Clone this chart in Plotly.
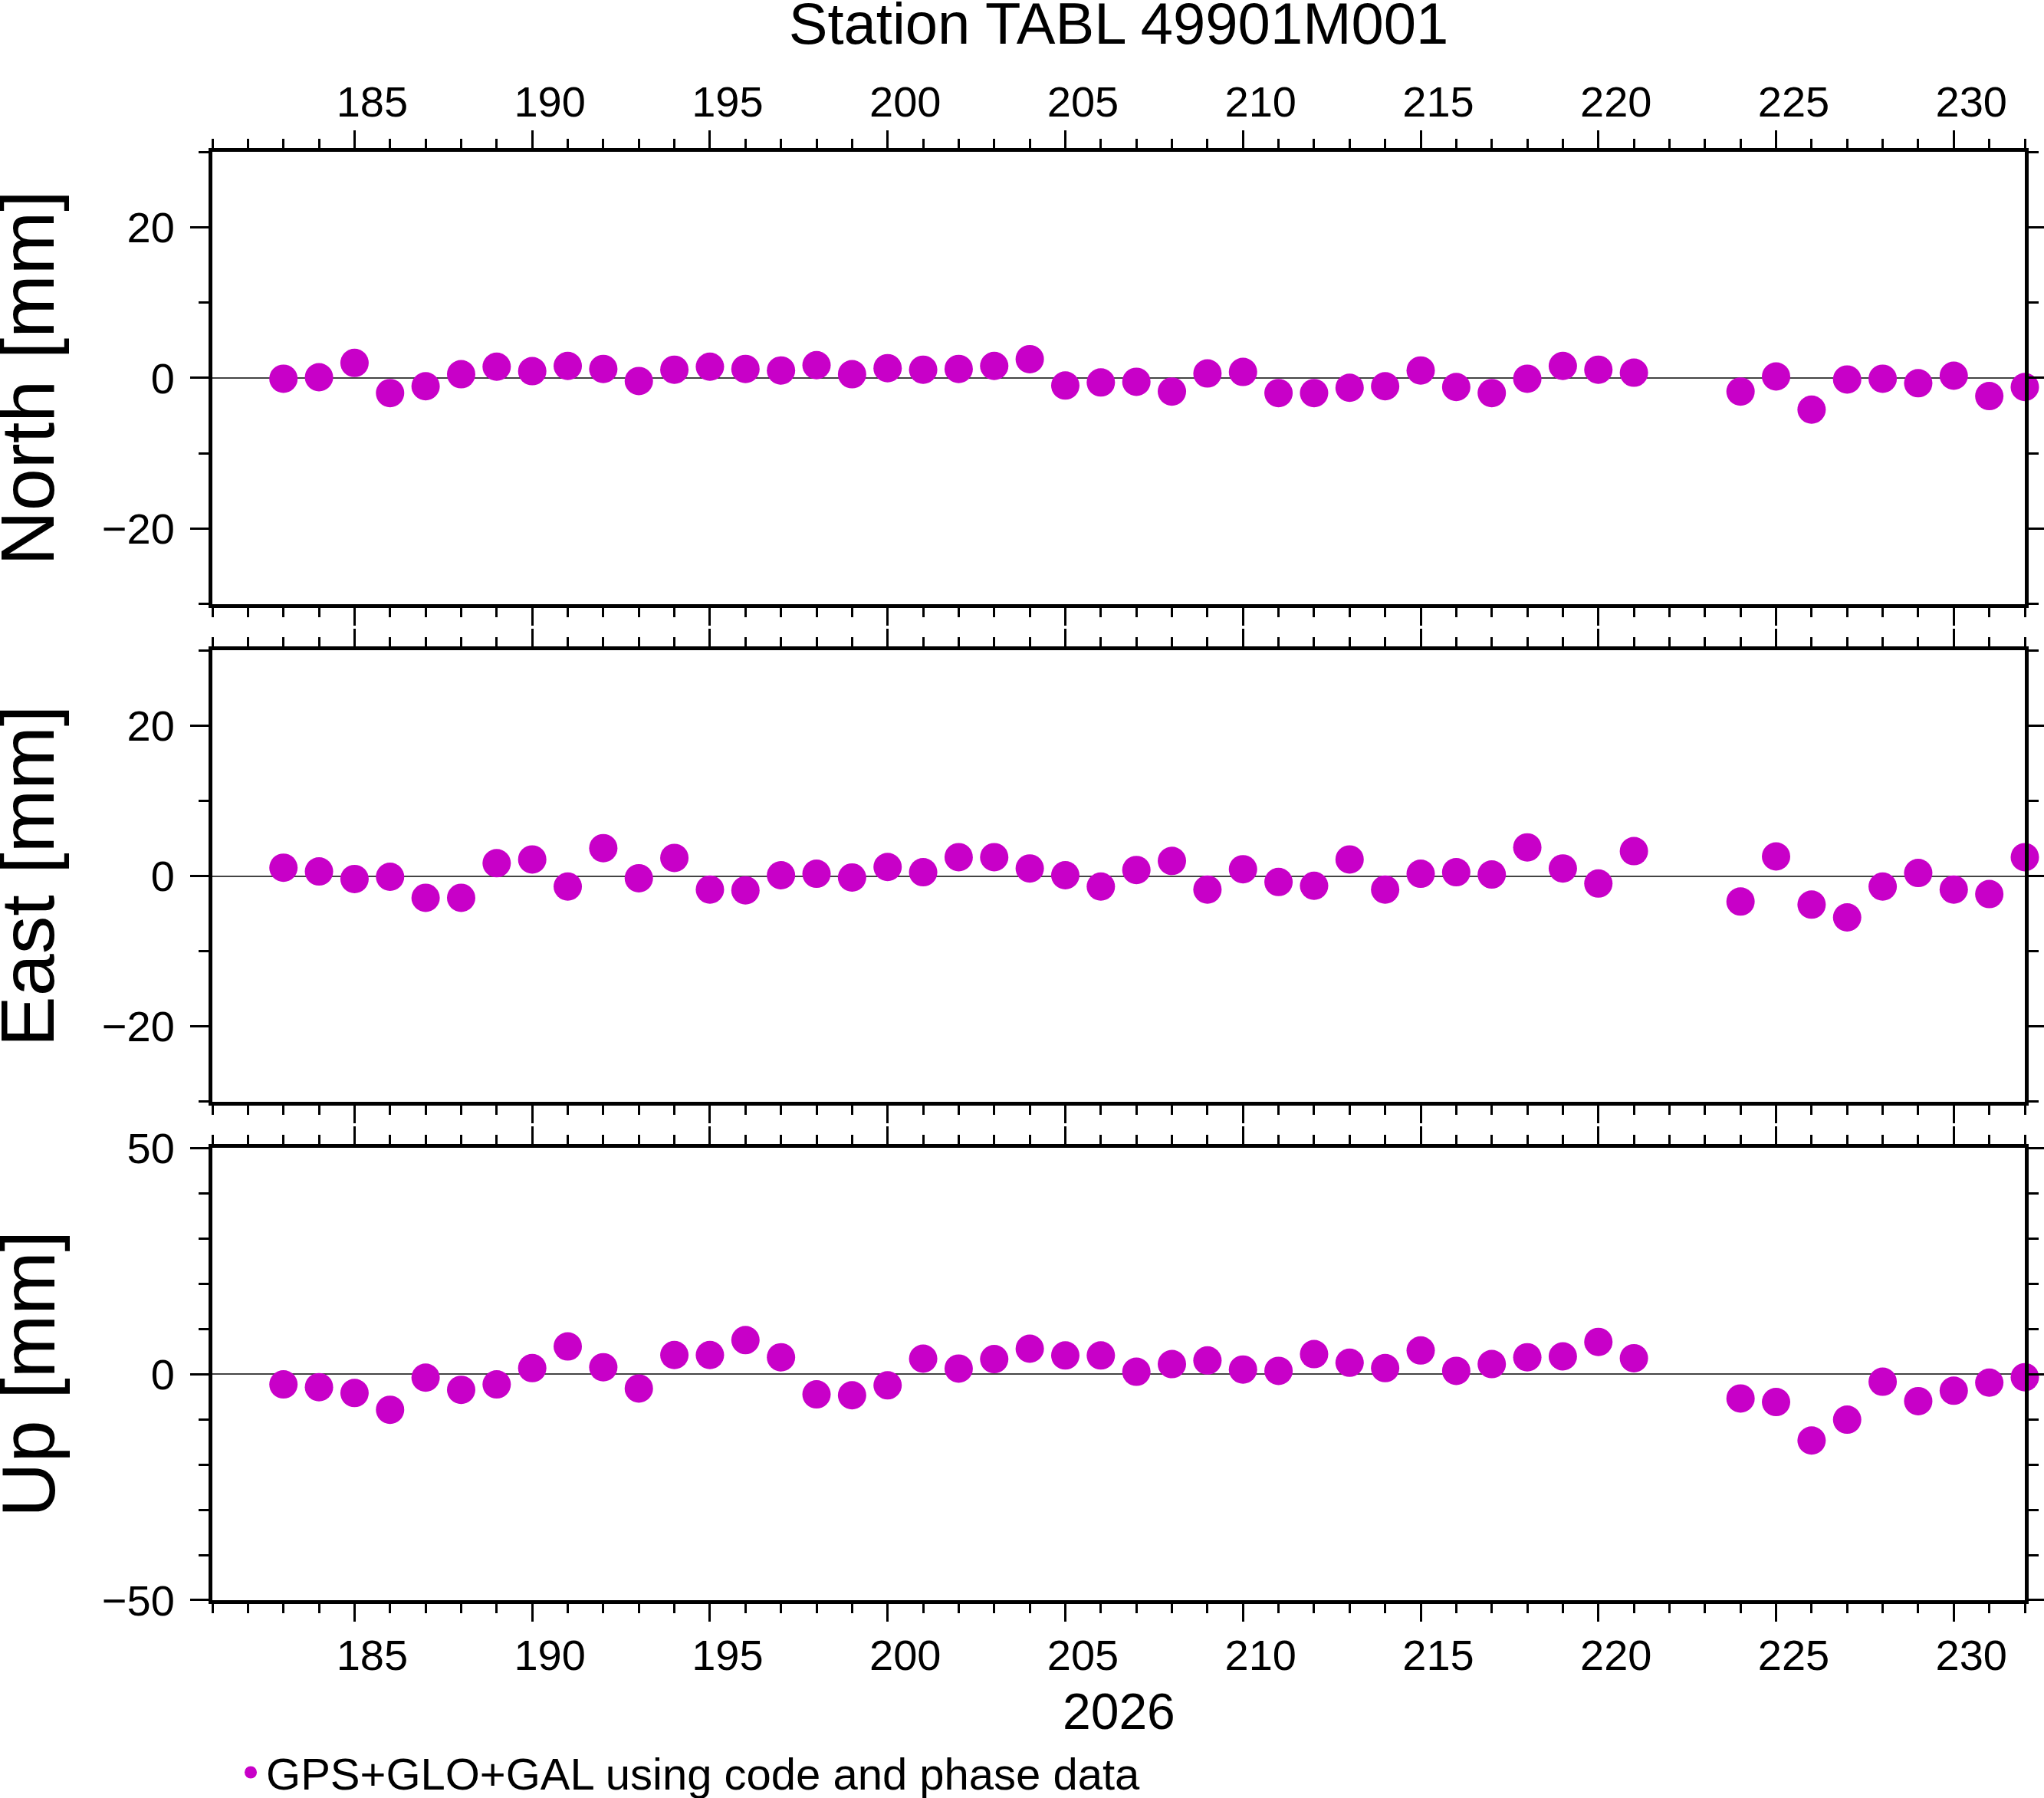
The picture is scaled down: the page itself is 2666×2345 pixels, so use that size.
import plotly.graph_objects as go

# day of year 2026
days = [183, 184, 185, 186, 187, 188, 189, 190, 191, 192, 193, 194, 195, 196,
        197, 198, 199, 200, 201, 202, 203, 204, 205, 206, 207, 208, 209, 210,
        211, 212, 213, 214, 215, 216, 217, 218, 219, 220, 221,
        224, 225, 226, 227, 228, 229, 230, 231, 232]

north = [-0.1, 0.1, 2.0, -2.0, -1.1, 0.5, 1.5, 0.9, 1.6, 1.2,
         -0.4, 1.1, 1.5, 1.2, 1.0, 1.7, 0.5, 1.3, 1.1, 1.2,
         1.6, 2.5, -1.0, -0.6,
         -0.5, -1.8, 0.6, 0.8, -2.0, -2.0, -1.3, -1.1, 1.0, -1.2, -2.0, -0.1, 1.6, 1.1, 0.7,
         -1.8, 0.2, -4.2, -0.2, -0.1, -0.7, 0.3, -2.4, -1.2]

east = [1.1, 0.6, -0.4, -0.1, -2.9, -2.9, 1.7, 2.2, -1.4, 3.7,
        -0.3, 2.4, -1.8, -1.9, 0.1, 0.3, -0.2, 1.2, 0.5, 2.5,
        2.5, 1.0, 0.1, -1.4,
        0.8, 2.0, -1.8, 0.9, -0.8, -1.3, 2.2, -1.8, 0.3, 0.5, 0.2, 3.8, 1.0, -1.0, 3.3,
        -3.4, 2.6, -3.8, -5.5, -1.4, 0.4, -1.8, -2.4, 2.5]

up = [-2.3, -2.9, -4.2, -7.9, -0.8, -3.5, -2.3, 1.3, 6.1, 1.5,
      -3.2, 4.2, 4.2, 7.5, 3.7, -4.5, -4.7, -2.5, 3.4, 1.2,
      3.3, 5.6, 4.1, 4.1,
      0.5, 2.2, 3.0, 1.0, 0.7, 4.4, 2.5, 1.3, 5.2, 0.7, 2.2, 3.7, 3.9, 7.1, 3.5,
      -5.4, -6.2, -14.7, -10.1, -1.7, -6.0, -3.7, -1.9, -0.7]

panel_names = ["North [mm]", "East [mm]", "Up [mm]"]
legend_name = "GPS+GLO+GAL using code and phase data"

FONT = "Liberation Sans"
COL = "#c800c8"

fig = go.Figure()
series = [north, east, up]
for i, vals in enumerate(series):
    n = "" if i == 0 else str(i + 1)
    fig.add_trace(go.Scatter(x=days, y=vals, mode="markers", name=legend_name,
                             xaxis="x" + n, yaxis="y" + n, showlegend=(i == 0),
                             cliponaxis=False,
                             marker=dict(size=37, color=COL, line=dict(width=0))))

# GMT puts the day labels in the middle of each day interval
common_x = dict(range=[181, 232], dtick=5, tick0=0, showline=True, linewidth=5,
                linecolor="black", mirror="ticks", ticks="outside", ticklen=23,
                tickwidth=3, tickcolor="black", showgrid=False, zeroline=False,
                ticklabelshift=23, ticklabelstandoff=-4,
                tickfont=dict(family=FONT, size=56, color="black"),
                minor=dict(ticks="outside", ticklen=12, tickwidth=3, dtick=1,
                           tick0=0, tickcolor="black", showgrid=False))
common_y = dict(showline=True, linewidth=5, linecolor="black", mirror="ticks",
                ticks="outside", ticklen=24, tickwidth=3, tickcolor="black",
                showgrid=False, zeroline=True, zerolinecolor="#444",
                zerolinewidth=1.5, ticklabelstandoff=9,
                tickfont=dict(family=FONT, size=56, color="black"))

domains = [[0.6877, 1.0], [0.3441, 0.6559], [0.0, 0.3123]]

fig.update_layout(
    xaxis=dict(common_x, anchor="y", side="top"),
    xaxis2=dict(common_x, anchor="y2", showticklabels=False),
    xaxis3=dict(common_x, anchor="y3"),
    yaxis=dict(common_y, domain=domains[0], anchor="x", range=[-30, 30], dtick=20, tick0=0,
               minor=dict(ticks="outside", ticklen=13, tickwidth=3, dtick=10, tick0=0,
                          tickcolor="black", showgrid=False)),
    yaxis2=dict(common_y, domain=domains[1], anchor="x2", range=[-30, 30], dtick=20, tick0=0,
                minor=dict(ticks="outside", ticklen=13, tickwidth=3, dtick=10, tick0=0,
                           tickcolor="black", showgrid=False)),
    yaxis3=dict(common_y, domain=domains[2], anchor="x3", range=[-50, 50], dtick=50, tick0=0,
                minor=dict(ticks="outside", ticklen=13, tickwidth=3, dtick=10, tick0=0,
                           tickcolor="black", showgrid=False)),
)

for i, name in enumerate(panel_names):
    fig.add_annotation(text=name, xref="paper", yref="paper", x=-0.102,
                       y=sum(domains[i]) / 2, xanchor="center", yanchor="middle",
                       textangle=-90, showarrow=False,
                       font=dict(family=FONT, size=99, color="black"))

fig.add_annotation(text="2026", xref="paper", yref="paper", x=0.5, y=-0.077,
                   xanchor="center", yanchor="middle", showarrow=False,
                   font=dict(family=FONT, size=66, color="black"))

fig.update_layout(
    width=2666, height=2345,
    margin=dict(l=277, r=25, t=198, b=258, autoexpand=False),
    paper_bgcolor="white", plot_bgcolor="white",
    title=dict(text="Station TABL 49901M001", x=0.5, xref="paper", xanchor="center",
               y=1 - 30 / 2345, yref="container", yanchor="middle",
               font=dict(family=FONT, size=76, color="black")),
    showlegend=True,
    legend=dict(orientation="h", x=0.0127, y=-0.119, xanchor="left", yanchor="middle",
                font=dict(family=FONT, size=58, color="black"), bgcolor="rgba(0,0,0,0)"),
    font=dict(family=FONT, color="black"),
)

# drop the default page margin so the figure sits at the top-left corner
fig.write_html("out.html", config={"displayModeBar": False},
               post_script="document.body.style.margin='0px';")
